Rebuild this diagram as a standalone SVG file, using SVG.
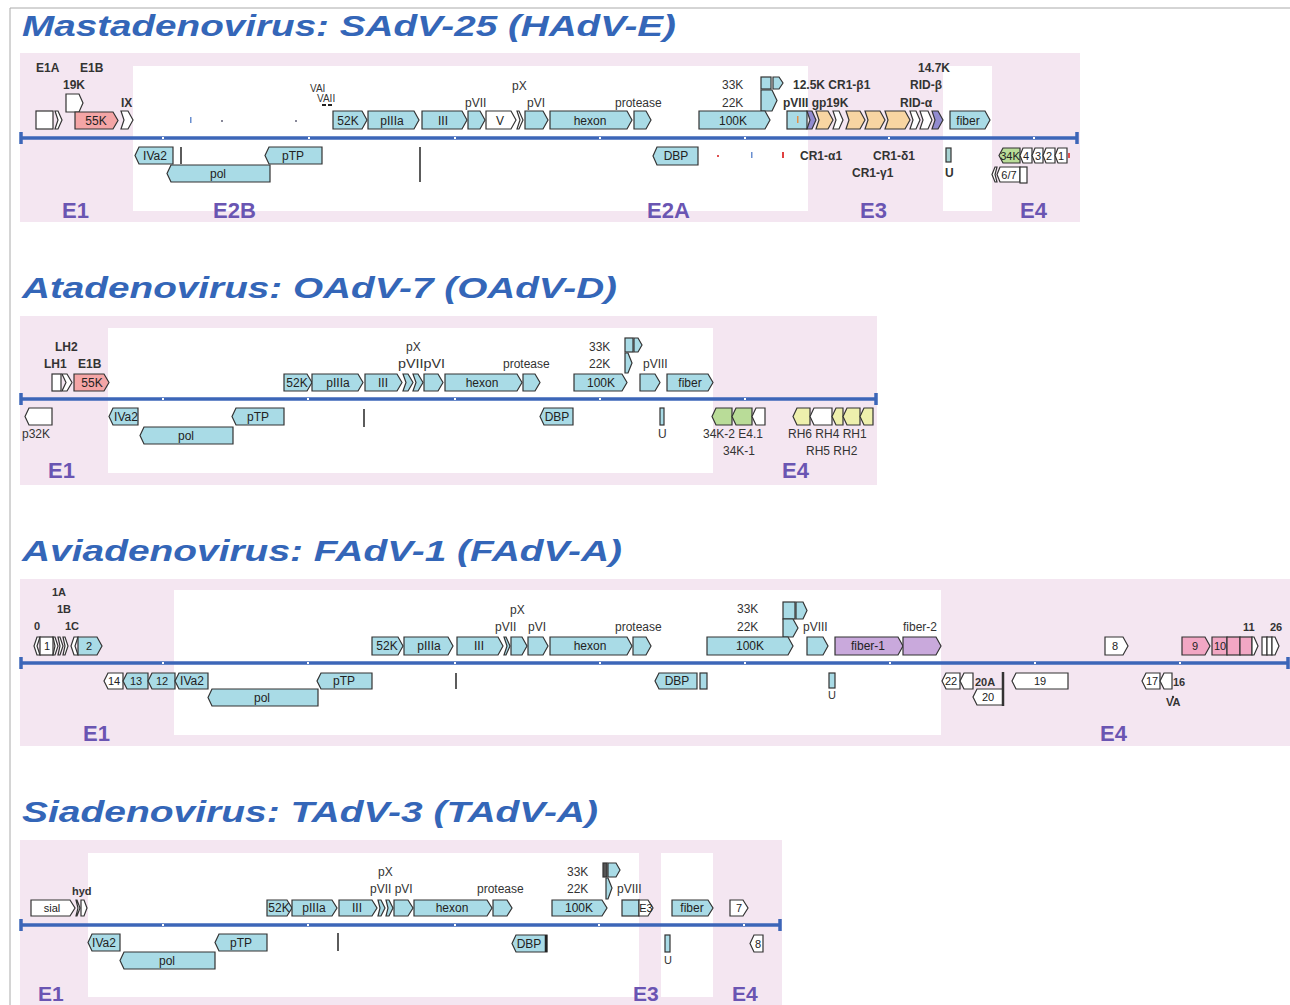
<svg xmlns="http://www.w3.org/2000/svg" width="1290" height="1005" viewBox="0 0 1290 1005">
<style>
.bg{fill:#f4e6f1}
.wh{fill:#fff}
.ttl{font-family:"Liberation Sans",Arial,sans-serif;font-weight:bold;font-style:italic;font-size:30px;fill:#3466b8}
.reg{font-family:"Liberation Sans",Arial,sans-serif;font-weight:bold;font-size:22px;fill:#6a55b2}
.lb{font-family:"Liberation Sans",Arial,sans-serif;font-size:12px;fill:#333}
.lbb{font-family:"Liberation Sans",Arial,sans-serif;font-size:12px;font-weight:bold;fill:#333}
.gl{font-family:"Liberation Sans",Arial,sans-serif;font-size:12px;fill:#222;text-anchor:middle}
.gn path,.gn rect{stroke:#333;stroke-width:1.2}
.b{fill:#a9dbe6}
.w{fill:#fff}
.pk{fill:#f4a5a6}
.or{fill:#f8d5a2}
.vi{fill:#928bd0}
.gr{fill:#b9dc98}
.ye{fill:#eef0ad}
.pp{fill:#f2a7c4}
.pu{fill:#c9a9dc}
.ln{stroke:#3c66b8;stroke-width:3.5}
.vl{stroke:#333;stroke-width:1.6}
.tk{fill:#fff}
</style>
<rect width="1290" height="1005" fill="#fff"/>
<line x1="10" y1="8" x2="1290" y2="8" stroke="#aaa" stroke-width="1"/>
<line x1="10" y1="8" x2="10" y2="1005" stroke="#aaa" stroke-width="1"/>

<!-- ================= Panel 1 ================= -->
<g id="panel1">
<text class="ttl" x="22" y="36" textLength="654" lengthAdjust="spacingAndGlyphs">Mastadenovirus: SAdV-25 (HAdV-E)</text>
<rect class="bg" x="20" y="53" width="1060" height="169"/>
<rect class="wh" x="133" y="66" width="675" height="145"/>
<rect class="wh" x="943" y="66" width="49" height="145"/>
<g id="p1-genome">
<line class="ln" x1="20" y1="138" x2="1078" y2="138"/>
<line class="ln" x1="21" y1="132" x2="21" y2="144"/>
<line class="ln" x1="1077" y1="132" x2="1077" y2="144"/>
<rect class="tk" x="162" y="137" width="2" height="2"/><rect class="tk" x="308" y="137" width="2" height="2"/><rect class="tk" x="454" y="137" width="2" height="2"/><rect class="tk" x="599" y="137" width="2" height="2"/><rect class="tk" x="744" y="137" width="2" height="2"/><rect class="tk" x="888" y="137" width="2" height="2"/><rect class="tk" x="1033" y="137" width="2" height="2"/>
</g>
<g class="gn">
<rect class="w" x="36" y="111" width="17" height="18"/>
<path class="w" d="M55 111H58L62 120L58 129H55L58 120Z"/>
<path class="w" d="M66 94H79L83 103L79 112H66Z"/>
<path class="pk" d="M75 112H113L118 120.5L113 129H75Z"/>
<path class="w" d="M121 111H128L133 120L128 129H121L124 120Z"/>
<path class="b" d="M333 111H362L367 120L362 129H333Z"/>
<path class="b" d="M368 111H414L419 120L414 129H368Z"/>
<path class="b" d="M422 111H462L467 120L462 129H422Z"/>
<path class="b" d="M468 111H480L485 120L480 129H468Z"/>
<path class="w" d="M486 111H511L516 120L511 129H486Z"/>
<path class="w" d="M517 111H519L523 120L519 129H517L520 120Z"/>
<path class="b" d="M525 111H543L548 120L543 129H525Z"/>
<path class="b" d="M550 111H627L632 120L627 129H550Z"/>
<path class="b" d="M634 111H646L651 120L646 129H634Z"/>
<rect class="b" x="761" y="77" width="10" height="12"/>
<path class="b" d="M773 77H779L783 83L779 89H773Z"/>
<path class="b" d="M761 90H772L777 100.5L772 111H761Z"/>
<path class="b" d="M699 111H765L770 120L765 129H699Z"/>
<rect class="b" x="787" y="111" width="20" height="18"/>
<path class="vi" d="M807 111H812L816 120L812 129H807L810 120Z"/>
<path class="or" d="M816 111H828L833 120L828 129H816L819 120Z"/>
<path class="w" d="M833 111H839L843 120L839 129H833L836 120Z"/>
<path class="or" d="M846 111H860L865 120L860 129H846L849 120Z"/>
<path class="or" d="M865 111H880L885 120L880 129H865L868 120Z"/>
<path class="or" d="M885 111H905L910 120L905 129H885L888 120Z"/>
<path class="w" d="M910 111H916L920 120L916 129H910L913 120Z"/>
<path class="w" d="M920 111H928L932 120L928 129H920L923 120Z"/>
<path class="vi" d="M932 111H938L943 120L938 129H932L935 120Z"/>
<path class="b" d="M950 111H985L990 120L985 129H950Z"/>
<path class="b" d="M173 147H139L135 155.5L139 164H173Z"/>
<path class="b" d="M270 165H171L167 173.5L171 182H270Z"/>
<path class="b" d="M322 147H269L265 155.5L269 164H322Z"/>
<path class="b" d="M698 147H657L653 156L657 165H698Z"/>
<rect fill="#a8d3d3" x="946" y="148" width="5" height="14"/>
<path class="gr" d="M1020 148H1003L999 155.5L1003 163H1020Z"/>
<path class="w" d="M1032 148H1023L1020 155.5L1023 163H1032Z"/>
<path class="w" d="M1043 148H1035L1032 155.5L1035 163H1043Z"/>
<path class="w" d="M1055 148H1046L1043 155.5L1046 163H1055Z"/>
<path class="w" d="M1067 148H1058L1055 155.5L1058 163H1067Z"/>
<path class="w" d="M997 167H995L992 174.5L995 182H997L995 174.5Z"/>
<path class="w" d="M1020 167H1000L997 174.5L1000 182H1020Z"/>
<rect class="w" x="1020" y="167" width="7" height="16"/>
</g>
<line class="vl" x1="181" y1="147" x2="181" y2="164"/>
<line class="vl" x1="420" y1="147" x2="420" y2="182"/>
<rect x="190" y="117" width="1.5" height="6" fill="#6a8fd0"/>
<rect x="221" y="120" width="2" height="2" fill="#889"/>
<rect x="295" y="120" width="2" height="2" fill="#889"/>
<rect x="322" y="104" width="4" height="2" fill="#222"/><rect x="328" y="104" width="4" height="2" fill="#222"/>
<rect x="797" y="116" width="1.5" height="7" fill="#e0904a"/>
<rect x="717" y="155" width="2" height="2" fill="#e05050"/>
<rect x="751" y="152" width="1.5" height="6" fill="#6a8fd0"/>
<rect x="782" y="152" width="2" height="6" fill="#e04040"/>
<rect x="1068" y="153" width="2" height="5" fill="#e05050"/>
<text class="gl" x="96" y="125">55K</text>
<text class="gl" x="348" y="125">52K</text>
<text class="gl" x="392" y="125">pIIIa</text>
<text class="gl" x="443" y="125">III</text>
<text class="gl" x="500" y="125">V</text>
<text class="gl" x="590" y="125">hexon</text>
<text class="gl" x="733" y="125">100K</text>
<text class="gl" x="968" y="125">fiber</text>
<text class="gl" x="155" y="160">IVa2</text>
<text class="gl" x="218" y="178">pol</text>
<text class="gl" x="293" y="160">pTP</text>
<text class="gl" x="676" y="160">DBP</text>
<text class="gl" x="1010" y="160" style="font-size:11px">34K</text>
<text class="gl" x="1026" y="160" style="font-size:11px">4</text>
<text class="gl" x="1038" y="160" style="font-size:11px">3</text>
<text class="gl" x="1049" y="160" style="font-size:11px">2</text>
<text class="gl" x="1061" y="160" style="font-size:11px">1</text>
<text class="gl" x="1009" y="179" style="font-size:11px">6/7</text>
<text class="lbb" x="36" y="72">E1A</text>
<text class="lbb" x="80" y="72">E1B</text>
<text class="lbb" x="63" y="89">19K</text>
<text class="lbb" x="121" y="107">IX</text>
<text class="lb" x="310" y="92" style="font-size:10px">VAI</text>
<text class="lb" x="317" y="102" style="font-size:10px">VAII</text>
<text class="lb" x="512" y="90">pX</text>
<text class="lb" x="465" y="107">pVII</text>
<text class="lb" x="527" y="107">pVI</text>
<text class="lb" x="615" y="107">protease</text>
<text class="lb" x="722" y="89">33K</text>
<text class="lb" x="722" y="107">22K</text>
<text class="lbb" x="793" y="89">12.5K CR1-β1</text>
<text class="lbb" x="783" y="107">pVIII  gp19K</text>
<text class="lbb" x="918" y="72">14.7K</text>
<text class="lbb" x="910" y="89">RID-β</text>
<text class="lbb" x="900" y="107">RID-α</text>
<text class="lbb" x="800" y="160">CR1-α1</text>
<text class="lbb" x="873" y="160">CR1-δ1</text>
<text class="lbb" x="852" y="177">CR1-γ1</text>
<text class="lbb" x="945" y="177">U</text>
<text class="reg" x="62" y="218">E1</text>
<text class="reg" x="213" y="218">E2B</text>
<text class="reg" x="647" y="218">E2A</text>
<text class="reg" x="860" y="218">E3</text>
<text class="reg" x="1020" y="218">E4</text>
</g>

<!-- ================= Panel 2 ================= -->
<g id="panel2">
<text class="ttl" x="22" y="298" textLength="595" lengthAdjust="spacingAndGlyphs">Atadenovirus: OAdV-7 (OAdV-D)</text>
<rect class="bg" x="20" y="316" width="857" height="169"/>
<rect class="wh" x="108" y="328" width="605" height="145"/>
<g id="p2-genome">
<line class="ln" x1="20" y1="399" x2="877" y2="399"/>
<line class="ln" x1="21" y1="393" x2="21" y2="405"/>
<line class="ln" x1="876" y1="393" x2="876" y2="405"/>
<rect class="tk" x="162" y="398" width="2" height="2"/><rect class="tk" x="307" y="398" width="2" height="2"/><rect class="tk" x="454" y="398" width="2" height="2"/><rect class="tk" x="599" y="398" width="2" height="2"/><rect class="tk" x="744" y="398" width="2" height="2"/>
</g>
<g class="gn">
<rect class="w" x="52" y="374" width="9" height="17"/>
<path class="w" d="M62 374H67L72 382.5L67 391H62L66 382.5Z"/>
<path class="pk" d="M74 374H104L109 382.5L104 391H74Z"/>
<path class="b" d="M284 374H307L312 382.5L307 391H284Z"/>
<path class="b" d="M312 374H358L363 382.5L358 391H312Z"/>
<path class="b" d="M365 374H397L402 382.5L397 391H365Z"/>
<path class="b" d="M403 374H408L413 382.5L408 391H403L406 382.5Z"/>
<path class="b" d="M413 374H418L423 382.5L418 391H413L416 382.5Z"/>
<path class="b" d="M424 374H438L443 382.5L438 391H424Z"/>
<path class="b" d="M445 374H517L522 382.5L517 391H445Z"/>
<path class="b" d="M523 374H535L540 382.5L535 391H523Z"/>
<rect class="b" x="625" y="338" width="8" height="14"/>
<path class="b" d="M634 338H638L642 345L638 352H634Z"/>
<path class="b" d="M625 353H628L632 363L628 373H625Z"/>
<path class="b" d="M574 374H622L627 382.5L622 391H574Z"/>
<path class="b" d="M640 374H655L660 382.5L655 391H640Z"/>
<path class="b" d="M667 374H708L713 382.5L708 391H667Z"/>
<path class="w" d="M52 408H29L25 416.5L29 425H52Z"/>
<path class="b" d="M138 408H113L109 416.5L113 425H138Z"/>
<path class="b" d="M233 427H144L140 435.5L144 444H233Z"/>
<path class="b" d="M284 408H236L232 416.5L236 425H284Z"/>
<path class="b" d="M573 408H544L540 416.5L544 425H573Z"/>
<rect class="b" x="660" y="408" width="4" height="17"/>
<path class="gr" d="M732 408H716L712 416.5L716 425H732Z"/>
<path class="gr" d="M752 408H736L732 416.5L736 425H752Z"/>
<path class="w" d="M765 408H756L752 416.5L756 425H765Z"/>
<path class="ye" d="M810 408H797L793 416.5L797 425H810Z"/>
<path class="w" d="M832 408H814L810 416.5L814 425H832Z"/>
<path class="ye" d="M843 408H836L832 416.5L836 425H843Z"/>
<path class="ye" d="M860 408H847L843 416.5L847 425H860Z"/>
<path class="ye" d="M873 408H864L860 416.5L864 425H873Z"/>
</g>
<line class="vl" x1="364" y1="409" x2="364" y2="427"/>
<text class="gl" x="92" y="387">55K</text>
<text class="gl" x="297" y="387">52K</text>
<text class="gl" x="338" y="387">pIIIa</text>
<text class="gl" x="383" y="387">III</text>
<text class="gl" x="482" y="387">hexon</text>
<text class="gl" x="601" y="387">100K</text>
<text class="gl" x="690" y="387">fiber</text>
<text class="gl" x="126" y="421">IVa2</text>
<text class="gl" x="186" y="440">pol</text>
<text class="gl" x="258" y="421">pTP</text>
<text class="gl" x="557" y="421">DBP</text>
<text class="lbb" x="55" y="351">LH2</text>
<text class="lbb" x="44" y="368">LH1</text>
<text class="lbb" x="78" y="368">E1B</text>
<text class="lb" x="406" y="351">pX</text>
<text class="lb" x="398" y="368" textLength="47" lengthAdjust="spacingAndGlyphs">pVIIpVI</text>
<text class="lb" x="503" y="368">protease</text>
<text class="lb" x="589" y="351">33K</text>
<text class="lb" x="589" y="368">22K</text>
<text class="lb" x="643" y="368">pVIII</text>
<text class="lb" x="22" y="438">p32K</text>
<text class="lb" x="658" y="438">U</text>
<text class="lb" x="703" y="438">34K-2 E4.1</text>
<text class="lb" x="723" y="455">34K-1</text>
<text class="lb" x="788" y="438">RH6  RH4  RH1</text>
<text class="lb" x="806" y="455">RH5  RH2</text>
<text class="reg" x="48" y="478">E1</text>
<text class="reg" x="782" y="478">E4</text>
</g>

<!-- ================= Panel 3 ================= -->
<g id="panel3">
<text class="ttl" x="22" y="561" textLength="600" lengthAdjust="spacingAndGlyphs">Aviadenovirus: FAdV-1 (FAdV-A)</text>
<rect class="bg" x="20" y="579" width="1270" height="167"/>
<rect class="wh" x="174" y="590" width="767" height="145"/>
<g id="p3-genome">
<line class="ln" x1="20" y1="663" x2="1289" y2="663"/>
<line class="ln" x1="21" y1="657" x2="21" y2="669"/>
<line class="ln" x1="1288" y1="657" x2="1288" y2="669"/>
<rect class="tk" x="162" y="662" width="2" height="2"/><rect class="tk" x="307" y="662" width="2" height="2"/><rect class="tk" x="454" y="662" width="2" height="2"/><rect class="tk" x="599" y="662" width="2" height="2"/><rect class="tk" x="744" y="662" width="2" height="2"/><rect class="tk" x="889" y="662" width="2" height="2"/><rect class="tk" x="1034" y="662" width="2" height="2"/><rect class="tk" x="1179" y="662" width="2" height="2"/>
</g>
<g class="gn">
<path class="w" d="M40 637H37L34 646L37 655H40L37 646Z"/>
<rect class="w" x="40" y="637" width="13" height="18"/>
<path class="w" d="M53 637H55L58 646L55 655H53L55 646Z"/>
<path class="w" d="M58 637H60L63 646L60 655H58L60 646Z"/>
<path class="w" d="M63 637H65L68 646L65 655H63L65 646Z"/>
<path class="w" d="M78 637H74L71 646L74 655H78L75 646Z"/>
<path class="b" d="M78 637H97L102 646L97 655H78Z"/>
<path class="b" d="M372 637H398L403 646L398 655H372Z"/>
<path class="b" d="M404 637H448L453 646L448 655H404Z"/>
<path class="b" d="M457 637H498L503 646L498 655H457Z"/>
<path class="b" d="M504 637H506L510 646L506 655H504L507 646Z"/>
<path class="b" d="M511 637H522L527 646L522 655H511Z"/>
<path class="b" d="M528 637H543L548 646L543 655H528Z"/>
<path class="b" d="M550 637H627L632 646L627 655H550Z"/>
<path class="b" d="M633 637H646L651 646L646 655H633Z"/>
<rect class="b" x="783" y="602" width="12" height="17"/>
<path class="b" d="M796 602H803L807 610.5L803 619H796Z"/>
<path class="b" d="M783 619H793L798 628L793 637H783Z"/>
<path class="b" d="M707 637H788L793 646L788 655H707Z"/>
<path class="b" d="M807 637H823L828 646L823 655H807Z"/>
<path class="pu" d="M835 637H898L903 646L898 655H835Z"/>
<path class="pu" d="M903 637H936L941 646L936 655H903Z"/>
<path class="w" d="M1105 637H1123L1128 646L1123 655H1105Z"/>
<path class="pp" d="M1182 637H1205L1210 646L1205 655H1182Z"/>
<path class="pp" d="M1212 637H1227V655H1212Z"/>
<rect class="pp" x="1227" y="637" width="13" height="18"/>
<rect class="pp" x="1240" y="637" width="12" height="18"/>
<path class="w" d="M1252 637H1254L1258 646L1254 655H1252Z"/>
<rect class="w" x="1262" y="637" width="5" height="18"/>
<rect class="w" x="1267" y="637" width="5" height="18"/>
<path class="w" d="M1272 637H1275L1279 646L1275 655H1272Z"/>
<path class="w" d="M123 673H108L104 681L108 689H123Z"/>
<path class="b" d="M148 673H127L123 681L127 689H148Z"/>
<path class="b" d="M175 673H152L148 681L152 689H175Z"/>
<path class="b" d="M208 673H179L175 681L179 689H208Z"/>
<path class="b" d="M318 689H212L208 697.5L212 706H318Z"/>
<path class="b" d="M372 673H321L317 681L321 689H372Z"/>
<path class="b" d="M697 673H659L655 681L659 689H697Z"/>
<rect class="b" x="700" y="673" width="7" height="16"/>
<rect class="b" x="829" y="673" width="6" height="15"/>
<path class="w" d="M960 673H946L942 681L946 689H960Z"/>
<path class="w" d="M973 673H964L960 681L964 689H973Z"/>
<path class="w" d="M1003 689H977L973 697L977 705H1003Z"/>
<path class="w" d="M1068 673H1016L1012 681L1016 689H1068Z"/>
<path class="w" d="M1160 673H1146L1142 681L1146 689H1160Z"/>
<path class="w" d="M1172 673H1164L1160 681L1164 689H1172Z"/>
</g>
<line class="vl" x1="456" y1="673" x2="456" y2="689"/>
<line x1="1003" y1="672" x2="1003" y2="706" stroke="#333" stroke-width="2.5"/>
<circle cx="1173" cy="697" r="1.2" fill="#333"/>
<text class="gl" x="47" y="650" style="font-size:11px">1</text>
<text class="gl" x="89" y="650" style="font-size:11px">2</text>
<text class="gl" x="387" y="650">52K</text>
<text class="gl" x="429" y="650">pIIIa</text>
<text class="gl" x="479" y="650">III</text>
<text class="gl" x="590" y="650">hexon</text>
<text class="gl" x="750" y="650">100K</text>
<text class="gl" x="868" y="650">fiber-1</text>
<text class="gl" x="1115" y="650" style="font-size:11px">8</text>
<text class="gl" x="1195" y="650" style="font-size:11px">9</text>
<text class="gl" x="1220" y="650" style="font-size:11px">10</text>
<text class="gl" x="114" y="685" style="font-size:11px">14</text>
<text class="gl" x="136" y="685" style="font-size:11px">13</text>
<text class="gl" x="162" y="685" style="font-size:11px">12</text>
<text class="gl" x="192" y="685">IVa2</text>
<text class="gl" x="262" y="702">pol</text>
<text class="gl" x="344" y="685">pTP</text>
<text class="gl" x="677" y="685">DBP</text>
<text class="gl" x="951" y="685" style="font-size:11px">22</text>
<text class="gl" x="988" y="701" style="font-size:11px">20</text>
<text class="gl" x="1040" y="685" style="font-size:11px">19</text>
<text class="gl" x="1152" y="685" style="font-size:11px">17</text>
<text class="lbb" x="52" y="596" style="font-size:11px">1A</text>
<text class="lbb" x="57" y="613" style="font-size:11px">1B</text>
<text class="lbb" x="34" y="630" style="font-size:11px">0</text>
<text class="lbb" x="65" y="630" style="font-size:11px">1C</text>
<text class="lb" x="510" y="614">pX</text>
<text class="lb" x="495" y="631">pVII</text>
<text class="lb" x="528" y="631">pVI</text>
<text class="lb" x="615" y="631">protease</text>
<text class="lb" x="737" y="613">33K</text>
<text class="lb" x="737" y="631">22K</text>
<text class="lb" x="803" y="631">pVIII</text>
<text class="lb" x="903" y="631">fiber-2</text>
<text class="lbb" x="1243" y="631" style="font-size:11px">11</text>
<text class="lbb" x="1270" y="631" style="font-size:11px">26</text>
<text class="lb" x="828" y="699" style="font-size:11px">U</text>
<text class="lbb" x="975" y="686" style="font-size:11px">20A</text>
<text class="lbb" x="1173" y="686" style="font-size:11px">16</text>
<text class="lbb" x="1166" y="706" style="font-size:11px">VA</text>
<text class="reg" x="83" y="741">E1</text>
<text class="reg" x="1100" y="741">E4</text>
</g>

<!-- ================= Panel 4 ================= -->
<g id="panel4">
<text class="ttl" x="22" y="822" textLength="576" lengthAdjust="spacingAndGlyphs">Siadenovirus: TAdV-3 (TAdV-A)</text>
<rect class="bg" x="20" y="840" width="762" height="165"/>
<rect class="wh" x="88" y="853" width="551" height="144"/>
<rect class="wh" x="661" y="853" width="52" height="144"/>
<g id="p4-genome">
<line class="ln" x1="20" y1="925" x2="781" y2="925"/>
<line class="ln" x1="21" y1="919" x2="21" y2="931"/>
<line class="ln" x1="780" y1="919" x2="780" y2="931"/>
<rect class="tk" x="162" y="924" width="2" height="2"/><rect class="tk" x="307" y="924" width="2" height="2"/><rect class="tk" x="454" y="924" width="2" height="2"/><rect class="tk" x="598" y="924" width="2" height="2"/><rect class="tk" x="743" y="924" width="2" height="2"/>
</g>
<g class="gn">
<path class="w" d="M31 900H70L75 908L70 916H31Z"/>
<path class="w" d="M76 900H77L80 908L77 916H76L78 908Z"/>
<path class="w" d="M81 900H84L87 908L84 916H81Z"/>
<path class="b" d="M267 900H287L292 908L287 916H267Z"/>
<path class="b" d="M292 900H332L337 908L332 916H292Z"/>
<path class="b" d="M339 900H372L377 908L372 916H339Z"/>
<path class="b" d="M378 900H381L385 908L381 916H378L380 908Z"/>
<path class="b" d="M386 900H389L393 908L389 916H386L388 908Z"/>
<path class="b" d="M394 900H408L413 908L408 916H394Z"/>
<path class="b" d="M414 900H487L492 908L487 916H414Z"/>
<path class="b" d="M493 900H507L512 908L507 916H493Z"/>
<rect fill="#555" stroke="#333" x="603" y="863" width="4" height="14"/>
<path class="b" d="M608 863H616L620 870L616 877H608Z"/>
<path class="b" d="M606 878H608L612 888L608 899H606Z"/>
<path class="b" d="M552 900H602L607 908L602 916H552Z"/>
<rect class="b" x="622" y="900" width="17" height="16"/>
<path class="w" d="M639 900H648L653 908L648 916H639Z"/>
<path class="b" d="M672 900H708L713 908L708 916H672Z"/>
<path class="w" d="M730 900H743L748 908L743 916H730Z"/>
<path class="b" d="M120 934H92L88 942.5L92 951H120Z"/>
<path class="b" d="M215 952H124L120 960.5L124 969H215Z"/>
<path class="b" d="M267 934H219L215 942.5L219 951H267Z"/>
<path class="b" d="M547 935H516L512 943.5L516 952H547Z"/>
<rect class="b" x="665" y="935" width="5" height="17"/>
<path class="w" d="M763 935H754L750 943.5L754 952H763Z"/>
</g>
<line x1="546" y1="935" x2="546" y2="952" stroke="#222" stroke-width="2.5"/>
<line class="vl" x1="338" y1="933" x2="338" y2="951"/>
<text class="gl" x="52" y="912" style="font-size:11px">sial</text>
<text class="gl" x="279" y="912">52K</text>
<text class="gl" x="314" y="912">pIIIa</text>
<text class="gl" x="357" y="912">III</text>
<text class="gl" x="452" y="912">hexon</text>
<text class="gl" x="579" y="912">100K</text>
<text class="gl" x="646" y="912" style="font-size:11px">E3</text>
<text class="gl" x="692" y="912">fiber</text>
<text class="gl" x="739" y="912" style="font-size:11px">7</text>
<text class="gl" x="104" y="947">IVa2</text>
<text class="gl" x="167" y="965">pol</text>
<text class="gl" x="241" y="947">pTP</text>
<text class="gl" x="529" y="948">DBP</text>
<text class="gl" x="758" y="948" style="font-size:11px">8</text>
<text class="lbb" x="72" y="895" style="font-size:11px">hyd</text>
<text class="lb" x="378" y="876">pX</text>
<text class="lb" x="370" y="893">pVII pVI</text>
<text class="lb" x="477" y="893">protease</text>
<text class="lb" x="567" y="876">33K</text>
<text class="lb" x="567" y="893">22K</text>
<text class="lb" x="617" y="893">pVIII</text>
<text class="lb" x="664" y="964" style="font-size:11px">U</text>
<text class="reg" x="38" y="1001" style="font-size:21px">E1</text>
<text class="reg" x="633" y="1001" style="font-size:21px">E3</text>
<text class="reg" x="732" y="1001" style="font-size:21px">E4</text>
</g>
</svg>
